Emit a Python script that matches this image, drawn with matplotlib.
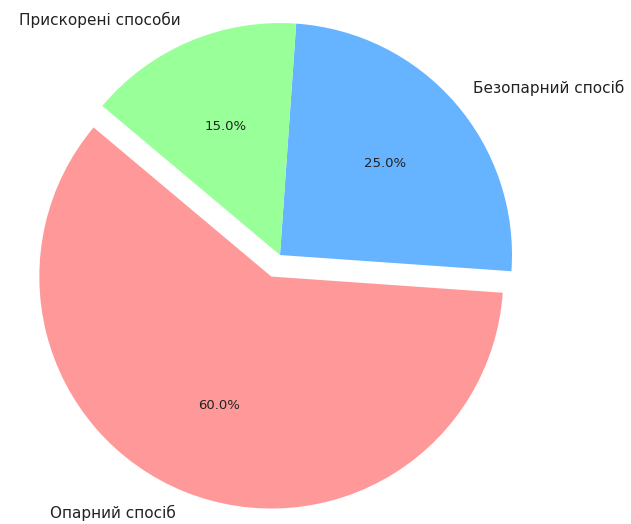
import matplotlib
matplotlib.use("Agg")
from matplotlib import pyplot as plt

# дані
labels = ['Опарний спосіб', 'Безопарний спосіб', 'Прискорені способи']
sizes = [60, 25, 15]
colors = ['#ff9999', '#66b3ff', '#99ff99']
explode = (0.1, 0, 0)

plt.rcParams['font.family'] = ['DejaVu Sans']

fig = plt.figure(figsize=(6.31, 5.24), dpi=100)
ax = fig.add_axes([0, 0, 1, 1])
wedges, texts, autotexts = ax.pie(sizes, explode=explode, labels=labels, colors=colors,
                                  autopct='%1.1f%%', startangle=140, radius=1)
for t in texts:
    t.set_fontsize(11)
    t.set_color('#222222')
for t in autotexts:
    t.set_fontsize(9.5)
    t.set_color('#222222')
ax.set_aspect('equal')
ax.set_xlim(-1.207, 1.513)
ax.set_ylim(-1.159, 1.099)
ax.axis('off')

fig.savefig('out.png', dpi=100)
